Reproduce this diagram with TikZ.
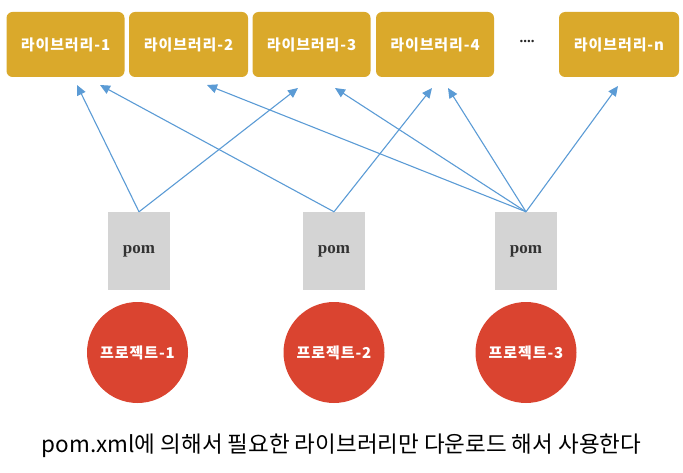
\documentclass[tikz,border=0pt]{standalone}
\usepackage{fontspec}
\newfontfamily\kr{Noto Sans CJK KR}
\newfontfamily\krsp[LetterSpace=6]{Noto Sans CJK KR}
\setmainfont{Liberation Serif}
\usetikzlibrary{arrows.meta,calc}
\definecolor{libgold}{HTML}{DAA92B}
\definecolor{pomgray}{HTML}{D4D4D4}
\definecolor{projred}{HTML}{DA4430}
\definecolor{arrowblue}{HTML}{5B9BD5}
\tikzset{
  libbox/.style={draw=none, fill=libgold, rounded corners=6pt, minimum height=65pt, inner sep=0pt,
    font=\krsp\bfseries\fontsize{15}{17}\selectfont, text=white},
  pombox/.style={draw=none, fill=pomgray, minimum width=62pt, minimum height=78pt, inner sep=0pt,
    font=\bfseries\fontsize{17}{19}\selectfont, text=black!80},
  projcirc/.style={circle, draw=none, fill=projred, minimum size=101pt, inner sep=0pt,
    font=\krsp\bfseries\fontsize{15}{17}\selectfont, text=white},
  deparrow/.style={draw=arrowblue, line width=1.1pt, -{Triangle[length=10pt,width=9pt]}},
}
\begin{document}
\begin{tikzpicture}[x=1pt,y=-1pt]
\useasboundingbox (0,0) rectangle (683,473);
% libraries
\node[libbox, minimum width=118pt] (lib1) at (65.5,44.5) {라이브러리-1};
\node[libbox, minimum width=119pt] (lib2) at (188.5,44.5) {라이브러리-2};
\node[libbox, minimum width=118pt] (lib3) at (311.5,44.5) {라이브러리-3};
\node[libbox, minimum width=118pt] (lib4) at (435,44.5) {라이브러리-4};
\node[font=\bfseries\fontsize{15}{17}\selectfont, text=black!85] (dots) at (527,41) {....};
\node[libbox, minimum width=120pt] (libn) at (619,44.5) {라이브러리-n};
% pom boxes
\node[pombox] (pom1) at (139,251) {pom};
\node[pombox] (pom2) at (334,251) {pom};
\node[pombox] (pom3) at (526,251) {pom};
% projects
\node[projcirc] (prj1) at (137.5,352.5) {프로젝트-1};
\node[projcirc] (prj2) at (334,352.5) {프로젝트-2};
\node[projcirc] (prj3) at (526,352.5) {프로젝트-3};
% arrow tips
\coordinate (t1a) at (77,85);
\coordinate (t1b) at (100,85);
\coordinate (t2a) at (207,85);
\coordinate (t3a) at (298,88);
\coordinate (t3b) at (335,88);
\coordinate (t4a) at (432,88);
\coordinate (t4b) at (448,88);
\coordinate (tna) at (618,86);
% connectors
\draw[deparrow] (pom1.north) -- (t1a);
\draw[deparrow] (pom1.north) -- (t3a);
\draw[deparrow] (pom2.north) -- (t1b);
\draw[deparrow] (pom2.north) -- (t4a);
\draw[deparrow] (pom3.north) -- (t2a);
\draw[deparrow] (pom3.north) -- (t3b);
\draw[deparrow] (pom3.north) -- (t4b);
\draw[deparrow] (pom3.north) -- (tna);
% caption
\node[font=\kr\fontsize{22.5}{26}\selectfont, text=black] (cap) at (341.5,446) {pom.xml에 의해서 필요한 라이브러리만 다운로드 해서 사용한다};
\end{tikzpicture}
\end{document}
